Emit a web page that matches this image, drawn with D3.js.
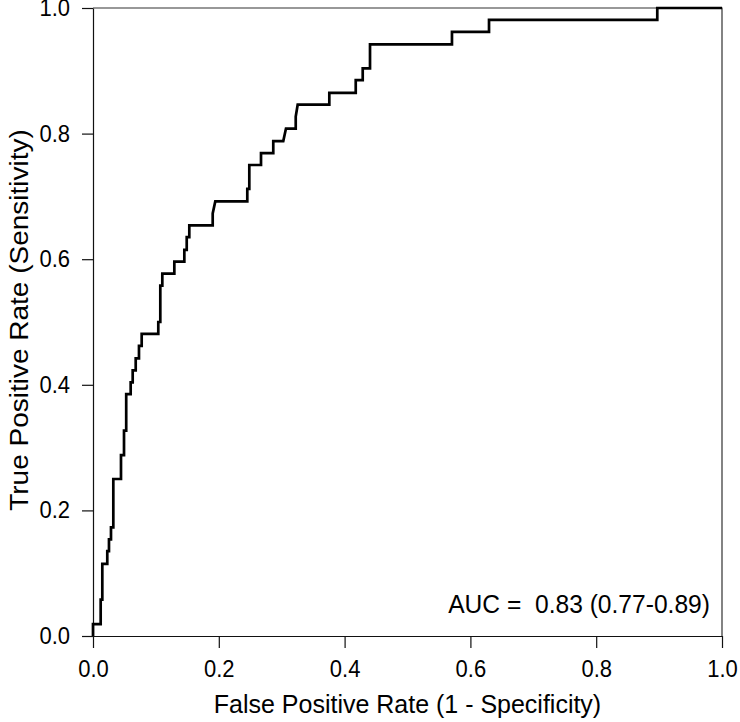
<!DOCTYPE html>
<html>
<head>
<meta charset="utf-8">
<script src="https://cdn.jsdelivr.net/npm/d3@7"></script>
<style>
  html, body { margin: 0; padding: 0; background: #fff; }
  svg { display: block; }
  text { font-family: "Liberation Sans", Arial, Helvetica, sans-serif; fill: #000; }
</style>
</head>
<body>
<svg id="chart" width="740" height="722"></svg>
<script>
// ROC curve vertices (false positive rate, true positive rate)
const fpr = [0, 0, 0.0122, 0.0122, 0.0148, 0.0148, 0.0227, 0.0227, 0.0254, 0.0254,
  0.0286, 0.0286, 0.0323, 0.0323, 0.0445, 0.0445, 0.0493, 0.0493, 0.0528, 0.0528,
  0.0599, 0.0599, 0.0631, 0.0631, 0.0679, 0.0679, 0.0731, 0.0731, 0.0774, 0.0774,
  0.1038, 0.1038, 0.1070, 0.1070, 0.1102, 0.1102, 0.1293, 0.1293, 0.1452, 0.1452,
  0.1490, 0.1490, 0.1531, 0.1531, 0.1903, 0.1903, 0.1944, 0.2453, 0.2453, 0.2485,
  0.2485, 0.2671, 0.2671, 0.2866, 0.2866, 0.3025, 0.3068, 0.3223, 0.3223, 0.3254,
  0.3757, 0.3757, 0.4177, 0.4177, 0.4288, 0.4288, 0.4404, 0.4404, 0.5707, 0.5707,
  0.6296, 0.6296, 0.8971, 0.8971, 1.0];
const tpr = [0, 0.019, 0.019, 0.058, 0.058, 0.115, 0.115, 0.135, 0.135, 0.154,
  0.154, 0.173, 0.173, 0.250, 0.250, 0.288, 0.288, 0.327, 0.327, 0.385,
  0.385, 0.404, 0.404, 0.423, 0.423, 0.442, 0.442, 0.462, 0.462, 0.481,
  0.481, 0.500, 0.500, 0.558, 0.558, 0.577, 0.577, 0.596, 0.596, 0.615,
  0.615, 0.635, 0.635, 0.654, 0.654, 0.673, 0.692, 0.692, 0.712, 0.712,
  0.750, 0.750, 0.769, 0.769, 0.788, 0.788, 0.808, 0.808, 0.827, 0.846,
  0.846, 0.865, 0.865, 0.885, 0.885, 0.904, 0.904, 0.942, 0.942, 0.962,
  0.962, 0.981, 0.981, 1.0, 1.0];

const xTicks = [0, 0.2, 0.4, 0.6, 0.8, 1.0];
const yTicks = [0, 0.2, 0.4, 0.6, 0.8, 1.0];
const xTitle = "False Positive Rate (1 - Specificity)";
const yTitle = "True Positive Rate (Sensitivity)";
const aucLabel = "AUC =  0.83 (0.77-0.89)";

(function () {
const svg = d3.select("#chart");
const mL = 93, mR = 722, mT = 8, mB = 636;
const x = d3.scaleLinear().domain([0, 1]).range([mL, mR]);
const y = d3.scaleLinear().domain([0, 1]).range([mB, mT]);

const tickFs = 23.5, tickSx = 0.936;
const titleFs = 26.5, titleSx = 0.943;
const yTitleFs = 28, yTitleSx = 0.9;
const aucFs = 25.5, aucSx = 0.965;

svg.append("rect").attr("width", 740).attr("height", 722).attr("fill", "#fff");

// frame (top and right)
svg.append("path")
  .attr("d", `M${mL},${mT}H${mR}V${mB}`)
  .attr("fill", "none").attr("stroke", "#333").attr("stroke-width", 1.2);

const fmt = d3.format(".1f");

const gx = svg.append("g").attr("transform", `translate(0,${mB})`)
  .call(d3.axisBottom(x).tickValues(xTicks).tickFormat(fmt).tickSize(12).tickSizeOuter(0).tickPadding(12));
const gy = svg.append("g").attr("transform", `translate(${mL},0)`)
  .call(d3.axisLeft(y).tickValues(yTicks).tickFormat(fmt).tickSize(11).tickSizeOuter(0).tickPadding(12));

[gx, gy].forEach(g => {
  g.selectAll("path.domain").attr("stroke", "#111").attr("stroke-width", 1.2);
  g.selectAll(".tick line").attr("stroke", "#111").attr("stroke-width", 1.2);
  g.selectAll(".tick text").attr("font-size", tickFs)
    .attr("font-family", '"Liberation Sans", Arial, sans-serif').attr("fill", "#000");
});
gx.selectAll(".tick text").attr("transform", `scale(${tickSx},1)`);
gy.selectAll(".tick text").attr("x", -23 / tickSx).attr("transform", `scale(${tickSx},1)`);

// ROC line
const pts = fpr.map((f, i) => [f, tpr[i]]);
svg.append("path")
  .datum(pts)
  .attr("fill", "none")
  .attr("stroke", "#000")
  .attr("stroke-width", 2.7)
  .attr("stroke-linejoin", "miter")
  .attr("d", d3.line().x(d => x(d[0])).y(d => y(d[1])));

// titles
svg.append("text")
  .attr("transform", `translate(${(mL + mR) / 2},713) scale(${titleSx},1)`)
  .attr("text-anchor", "middle").attr("font-size", titleFs)
  .text(xTitle);

svg.append("text")
  .attr("transform", `translate(28,${(mT + mB) / 2 - 2}) rotate(-90) scale(1,${yTitleSx})`)
  .attr("text-anchor", "middle").attr("font-size", yTitleFs)
  .text(yTitle);

svg.append("text")
  .attr("transform", `translate(710,613) scale(${aucSx},1)`)
  .attr("text-anchor", "end").attr("font-size", aucFs)
  .attr("xml:space", "preserve").style("white-space", "pre")
  .text(aucLabel);
})();
</script>
</body>
</html>
